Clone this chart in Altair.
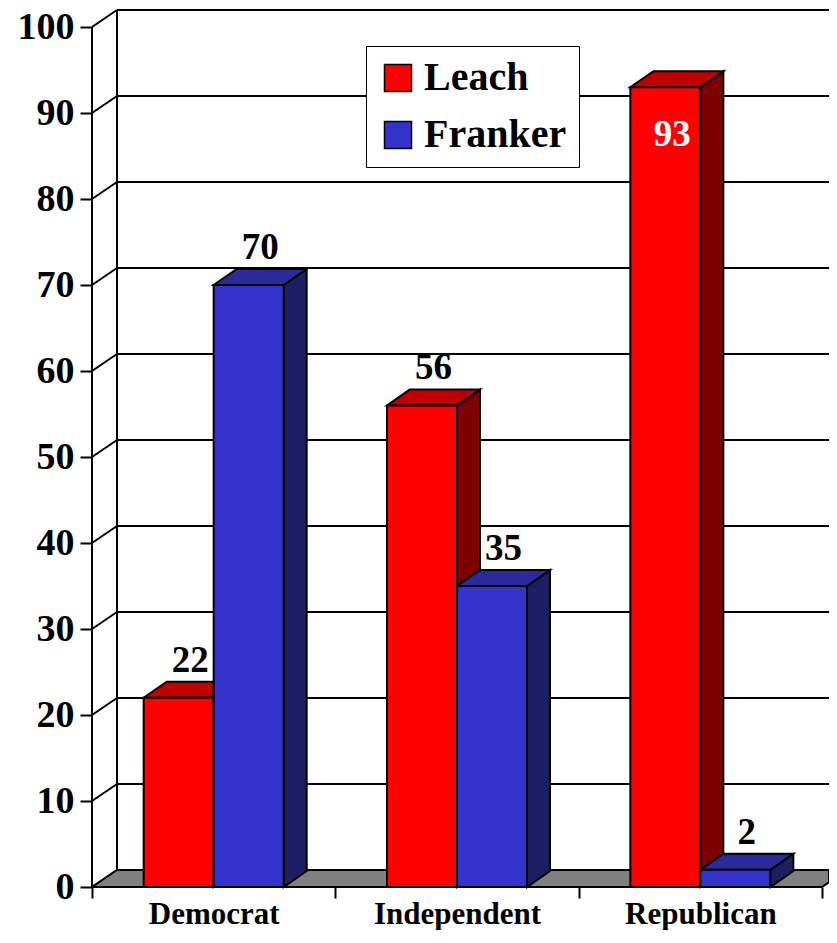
import altair as alt
import pandas as pd

# ---- data ----
categories = ["Democrat", "Independent", "Republican"]
series = ["Leach", "Franker"]
leach = [22, 56, 93]
franker = [70, 35, 2]
y_ticks = list(range(0, 101, 10))

front_colors = ["#FF0000", "#3333CC"]
top_colors = ["#C00000", "#2A2A9C"]
side_colors = ["#7F0000", "#1E1E62"]
floor_color = "#808080"

FONT = "Times New Roman, Liberation Serif, serif"

# ---- geometry (plot area in px, converted to data units) ----
W, H = 737, 877
N = len(categories)
PX_X = 730 / N            # px per category band
XMAX = W / PX_X
PX_Y = 8.6                # px per percentage point
YMAX = H / PX_Y
WDX, WDY = 25 / PX_X, 17 / PX_Y   # depth of walls
BDX, BDY = 23 / PX_X, 16 / PX_Y   # depth of bars
BW = 70 / PX_X                    # bar width

values = [leach, franker]

front_rows, side_rows, top_rows, label_rows = [], [], [], []
for i, cat in enumerate(categories):
    for j, s in enumerate(series):
        v = values[j][i]
        x0 = i + 0.5 + (j - 1) * BW
        x1 = x0 + BW
        bid = f"{cat}-{s}"
        front_rows.append(dict(x0=x0, x1=x1, v=v, base=0, series=s))
        for k in (0, 1):
            side_rows.append(dict(id=bid, xs=x1 + k * BDX, ylo=k * BDY,
                                  yhi=v + k * BDY, fill=side_colors[j]))
            top_rows.append(dict(id=bid, yy=v + k * BDY, xa=x0 + k * BDX,
                                 xb=x1 + k * BDX, fill=top_colors[j]))
        inside = v > 90
        label_rows.append(dict(
            xc=(x0 + x1) / 2 + (0.3 * BDX if inside else 0.5 * BDX),
            yl=v if inside else v + BDY,
            txt=str(v), inside=inside))

front_df = pd.DataFrame(front_rows)
side_df = pd.DataFrame(side_rows)
top_df = pd.DataFrame(top_rows)
label_df = pd.DataFrame(label_rows)

# floor parallelogram (clipped at the right edge of the plot)
t = (XMAX - N) / WDX
floor_df = pd.DataFrame([
    dict(yy=0, xa=0, xb=N),
    dict(yy=t * WDY, xa=t * WDX, xb=XMAX),
    dict(yy=WDY, xa=WDX, xb=XMAX),
])

conn_df = pd.DataFrame([dict(x=0, x2=WDX, y=v, y2=v + WDY) for v in y_ticks])
grid_df = pd.DataFrame([dict(x=WDX, x2=XMAX, y=v + WDY) for v in y_ticks[1:]])
wall_df = pd.DataFrame([dict(x=WDX, y=WDY, y2=y_ticks[-1] + WDY)])
axis_df = pd.DataFrame([dict(x=0, y=0, y2=y_ticks[-1])])

xs = alt.Scale(domain=[0, XMAX], nice=False, zero=False)
ys = alt.Scale(domain=[0, YMAX], nice=False, zero=False)

cat_expr = "datum.value < %d ? %s[datum.value] : ''" % (
    N, "[" + ",".join("'%s'" % c for c in categories) + "]")

X_AXIS = alt.Axis(
    values=list(range(N + 1)), labelExpr=cat_expr, labelOffset=PX_X / 2,
    tickSize=11, tickWidth=2, tickColor="black", domain=False, grid=False,
    title=None, labelFont=FONT, labelFontSize=31, labelFontWeight="bold",
    labelColor="black", labelBaseline="alphabetic", labelPadding=25,
    labelOverlap=False, labelFlush=False, orient="bottom")
Y_AXIS = alt.Axis(
    values=y_ticks, tickSize=12, tickWidth=2, tickColor="black",
    domain=False, grid=False, title=None, labelFont=FONT,
    labelFontSize=38, labelFontWeight="bold", labelColor="black",
    labelPadding=6, labelOverlap=False, labelFlush=False, orient="left")


def X(f, **kw):
    return alt.X(f, scale=xs, axis=X_AXIS, **kw)


def Y(f, **kw):
    return alt.Y(f, scale=ys, axis=Y_AXIS, **kw)


LW = 2

floor = alt.Chart(floor_df).mark_area(
    orient="horizontal", fill=floor_color, stroke="black", strokeWidth=LW
).encode(y=Y("yy:Q"), x=X("xa:Q", stack=None), x2="xb:Q")

connectors = alt.Chart(conn_df).mark_rule(color="black", strokeWidth=LW).encode(
    x=X("x:Q"), x2="x2:Q", y=Y("y:Q"), y2="y2:Q")
gridlines = alt.Chart(grid_df).mark_rule(color="black", strokeWidth=LW).encode(
    x=X("x:Q"), x2="x2:Q", y=Y("y:Q"))
backwall = alt.Chart(wall_df).mark_rule(color="black", strokeWidth=LW).encode(
    x=X("x:Q"), y=Y("y:Q"), y2="y2:Q")
frontaxis = alt.Chart(axis_df).mark_rule(color="black", strokeWidth=LW).encode(
    x=X("x:Q"), y=Y("y:Q"), y2="y2:Q")

sides = alt.Chart(side_df).mark_area(stroke="black", strokeWidth=LW, opacity=1).encode(
    x=X("xs:Q"), y=Y("yhi:Q", stack=None), y2="ylo:Q",
    detail="id:N", color=alt.Color("fill:N", scale=None))
tops = alt.Chart(top_df).mark_area(orient="horizontal", stroke="black",
                                   strokeWidth=LW, opacity=1).encode(
    y=Y("yy:Q"), x=X("xa:Q", stack=None), x2="xb:Q",
    detail="id:N", color=alt.Color("fill:N", scale=None))

fronts = alt.Chart(front_df).mark_rect(stroke="black", strokeWidth=LW).encode(
    x=X("x0:Q"), x2="x1:Q", y=Y("v:Q"), y2="base:Q",
    color=alt.Color("series:N", sort=series,
                    scale=alt.Scale(domain=series, range=front_colors),
                    legend=alt.Legend(
                        title=None, orient="none", legendX=274, legendY=36,
                        symbolType="square", symbolSize=729,
                        symbolStrokeColor="black", symbolStrokeWidth=1.5,
                        symbolOpacity=1,
                        labelFont=FONT, labelFontSize=40, labelFontWeight="bold",
                        labelColor="black", fillColor="white",
                        strokeColor="black", padding=12, rowPadding=17,
                        labelOffset=6, symbolOffset=0)),
)

labels_out = alt.Chart(label_df).transform_filter("!datum.inside").mark_text(
    font=FONT, fontSize=37, fontWeight="bold", color="black",
    baseline="alphabetic", align="center", dy=-10,
).encode(x=X("xc:Q"), y=Y("yl:Q"), text="txt:N")
labels_in = alt.Chart(label_df).transform_filter("datum.inside").mark_text(
    font=FONT, fontSize=37, fontWeight="bold", color="white",
    baseline="alphabetic", align="center", dy=59,
).encode(x=X("xc:Q"), y=Y("yl:Q"), text="txt:N")

chart = alt.layer(
    gridlines, backwall, connectors, floor, frontaxis,
    sides, tops, fronts, labels_out, labels_in,
).properties(
    width=W, height=H,
    autosize=alt.AutoSizeParams(type="none"),
    padding={"left": 84, "top": 2, "right": 0, "bottom": 43},
    background="white",
).configure_view(stroke=None)

chart.save("out.html", embed_options={"renderer": "svg", "actions": False})
